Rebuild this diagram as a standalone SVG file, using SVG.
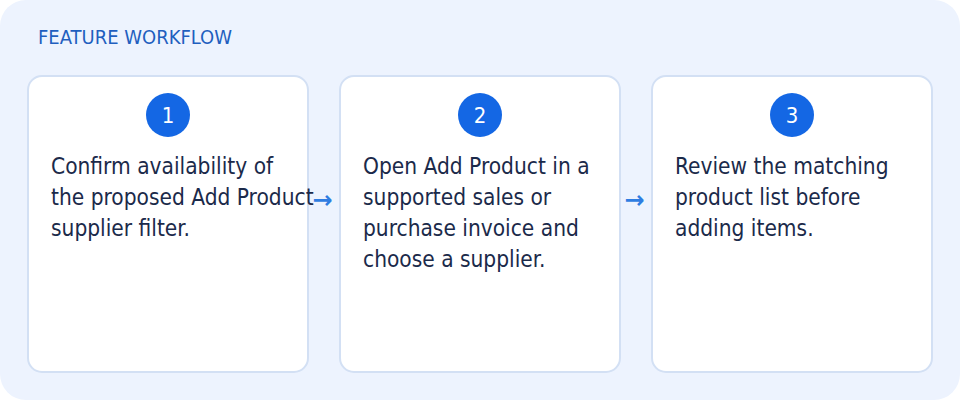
<svg xmlns="http://www.w3.org/2000/svg" width="960" height="400" viewBox="0 0 960 400">
<style>
.panel{fill:#edf3fe}
.card{fill:#ffffff;stroke:#d3e0f4;stroke-width:2}
.badge{fill:#1467e4}
.num{fill:#ffffff;font-family:"DejaVu Sans Condensed","DejaVu Sans",sans-serif;font-size:22px;text-anchor:middle}
.body{fill:#1b2a4a;font-family:"DejaVu Sans Condensed","DejaVu Sans",sans-serif;font-size:22.5px}
.title{fill:#1f5fbf;font-family:"DejaVu Sans Condensed","DejaVu Sans",sans-serif;font-size:20px}
.arrow{fill:#2f7de1;font-family:"DejaVu Sans",sans-serif;font-size:24px;font-weight:bold;text-anchor:middle}
</style>
<rect class="panel" x="0" y="0" width="960" height="400" rx="26"/>
<text class="title" x="38" y="44">FEATURE WORKFLOW</text>
<g id="connectors">
<text class="arrow" x="322.5" y="208">→</text>
<text class="arrow" x="634.5" y="208">→</text>
</g>
<g id="step1">
<rect class="card" x="28" y="76" width="280" height="296" rx="14"/>
<circle class="badge" cx="168" cy="115" r="22"/>
<text class="num" x="168" y="123">1</text>
<text class="body"><tspan x="51" y="174">Confirm availability of</tspan><tspan x="51" y="205">the proposed Add Product</tspan><tspan x="51" y="236">supplier filter.</tspan></text>
</g>
<g id="step2">
<rect class="card" x="340" y="76" width="280" height="296" rx="14"/>
<circle class="badge" cx="480" cy="115" r="22"/>
<text class="num" x="480" y="123">2</text>
<text class="body"><tspan x="363" y="174">Open Add Product in a</tspan><tspan x="363" y="205">supported sales or</tspan><tspan x="363" y="236">purchase invoice and</tspan><tspan x="363" y="267">choose a supplier.</tspan></text>
</g>
<g id="step3">
<rect class="card" x="652" y="76" width="280" height="296" rx="14"/>
<circle class="badge" cx="792" cy="115" r="22"/>
<text class="num" x="792" y="123">3</text>
<text class="body"><tspan x="675" y="174">Review the matching</tspan><tspan x="675" y="205">product list before</tspan><tspan x="675" y="236">adding items.</tspan></text>
</g>
</svg>
